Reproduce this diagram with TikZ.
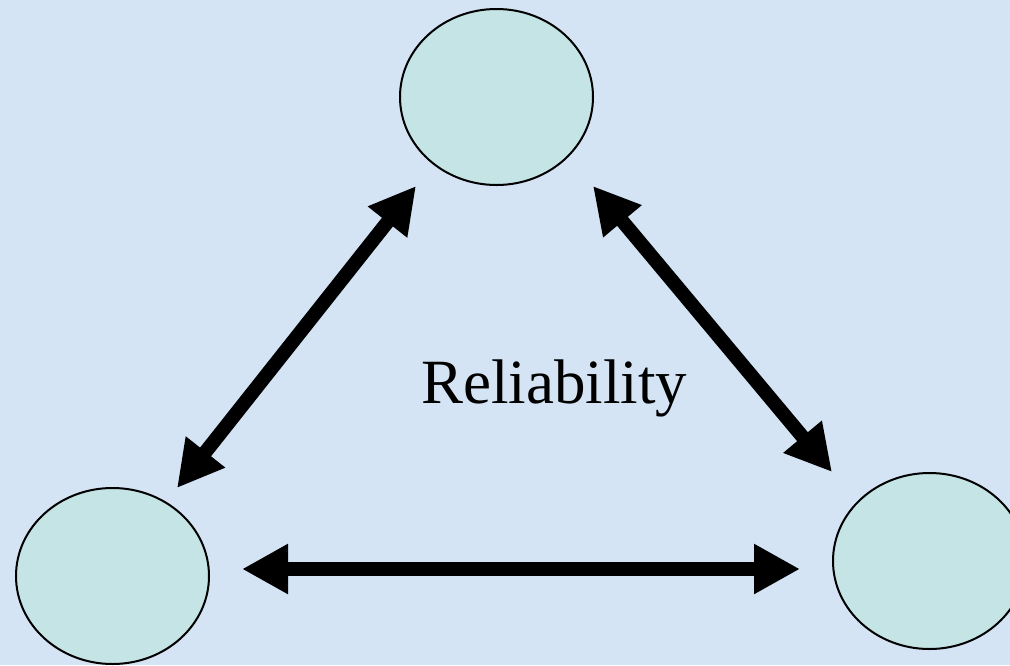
\documentclass[tikz,border=0pt]{standalone}
\usepackage{fontspec}
\setmainfont{Liberation Serif}
\usetikzlibrary{arrows.meta,shapes.geometric}
\definecolor{bgblue}{HTML}{D4E4F4}
\definecolor{ellfill}{HTML}{C4E4E6}
\tikzset{
  blob/.style={ellipse, draw=black, line width=2pt, fill=ellfill, minimum width=193pt, minimum height=176pt, inner sep=0pt},
  link/.style={line width=14pt, {Triangle[length=46pt,width=47pt]}-{Triangle[length=46pt,width=47pt]}}
}
\begin{document}
\begin{tikzpicture}[x=1pt,y=-1pt]
\fill[bgblue] (0,0) rectangle (1010,665);
\useasboundingbox (0,0) rectangle (1010,665);
\node[blob] (top) at (496.5,97) {};
\node[blob] (bl) at (112.5,576) {};
\node[blob] (br) at (929.5,561) {};
\coordinate (a1) at (177,488);
\coordinate (a2) at (416,186);
\coordinate (b1) at (593,186);
\coordinate (b2) at (832,472);
\coordinate (c1) at (242,569);
\coordinate (c2) at (800,569);
\draw[link] (a1) -- (a2);
\draw[link] (b1) -- (b2);
\draw[link] (c1) -- (c2);
\node[anchor=base, font=\fontsize{63}{70}\selectfont, inner sep=0pt] (label) at (554,403) {Reliability};
\end{tikzpicture}
\end{document}
